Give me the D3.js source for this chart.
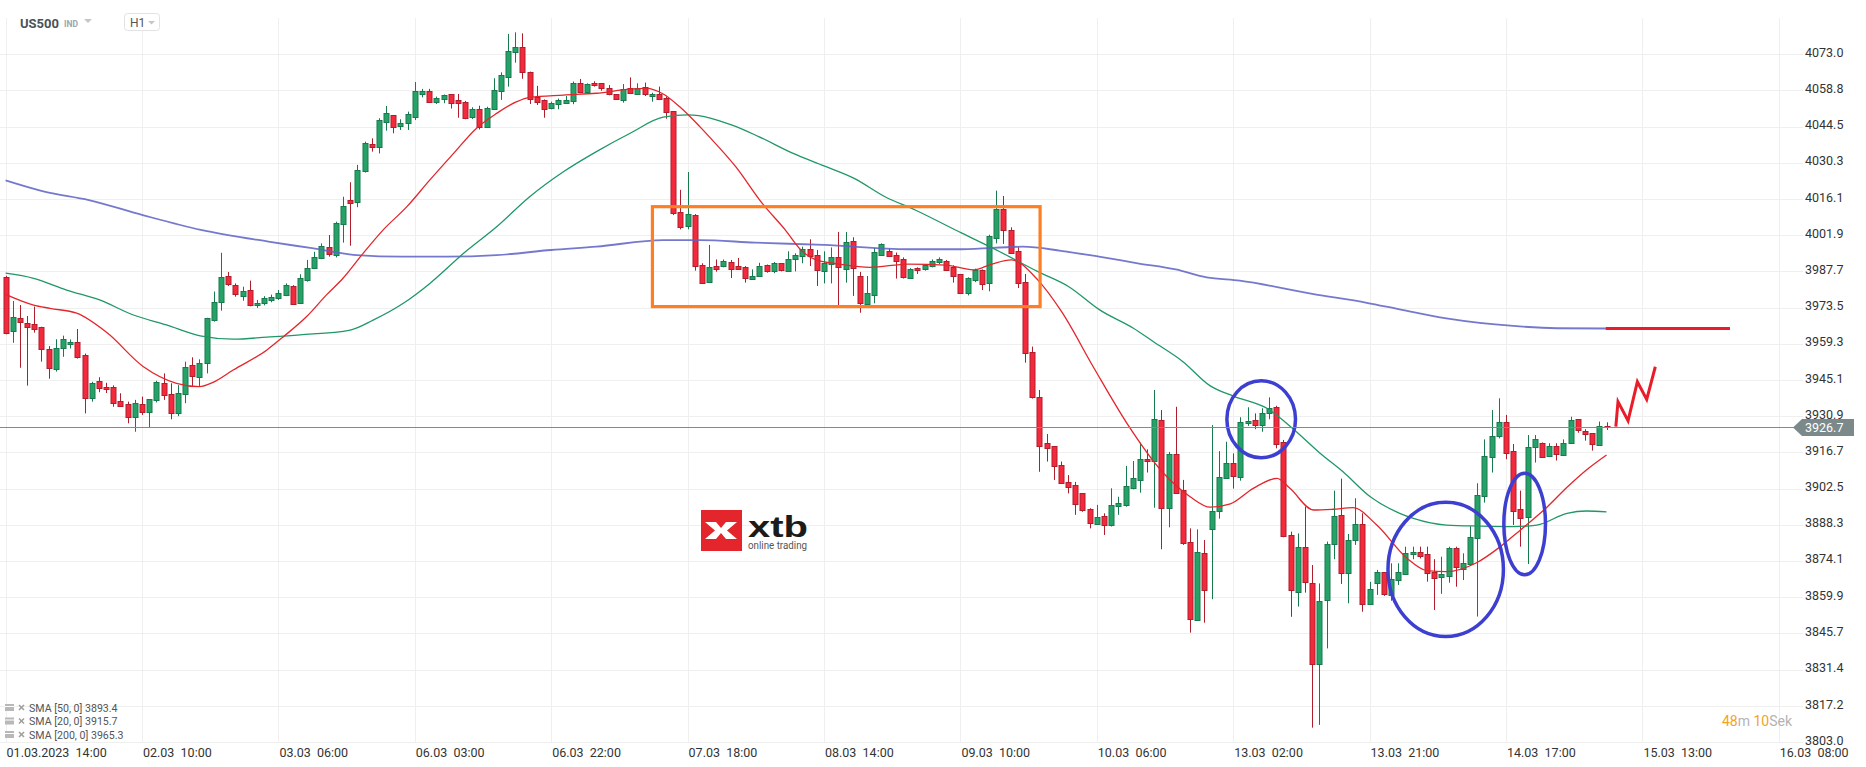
<!DOCTYPE html>
<html><head><meta charset="utf-8">
<script src="https://cdn.jsdelivr.net/npm/d3@7"></script>
<style>
html,body{margin:0;padding:0;background:#fff;}
svg{display:block;font-family:Roboto,"Liberation Sans",sans-serif;}
</style></head><body>
<svg id="chart" width="1866" height="767"></svg>
<script>
// ---------- DATA ----------
const openV = [3985.4,3964.1,3969.3,3967.6,3967.0,3965.8,3957.2,3949.3,3957.5,3959.1,3959.9,3954.8,3937.9,3944.6,3942.3,3942.5,3937.0,3935.6,3930.5,3935.6,
3932.4,3937.0,3943.8,3939.5,3932.0,3939.9,3950.9,3946.4,3951.7,3968.9,3975.8,3986.0,3982.4,3978.2,3980.4,3974.3,3975.2,3976.8,3977.2,3978.5,
3982.1,3975.2,3984.3,3989.0,3993.2,3997.4,3994.2,4006.2,4015.7,4015.1,4027.2,4037.6,4036.4,4046.1,4048.9,4044.5,4045.8,4048.4,4057.6,4058.4,
4054.0,4055.2,4057.3,4055.0,4054.3,4048.2,4051.4,4044.5,4051.3,4058.4,4064.1,4073.7,4075.6,4066.1,4056.1,4055.0,4051.6,4053.3,4054.0,4054.4,
4061.5,4057.8,4061.5,4061.5,4059.5,4057.3,4055.2,4059.5,4057.6,4059.9,4056.4,4057.3,4055.7,4050.6,4010.9,4005.3,4009.8,3990.2,3983.3,3989.8,
3989.6,3991.4,3989.8,3989.3,3984.9,3985.9,3990.1,3987.7,3990.9,3988.0,3992.5,3993.5,3996.4,3994.0,3987.7,3990.4,3993.2,3988.8,3999.5,3985.9,
3974.9,3978.6,3994.3,3995.9,3994.3,3992.4,3985.1,3989.0,3988.5,3989.6,3991.1,3991.9,3989.6,3986.7,3979.1,3984.3,3988.3,3983.0,4000.6,4012.1,
4004.0,3995.6,3983.5,3955.9,3938.3,3920.2,3919.2,3911.6,3905.1,3903.8,3900.6,3894.4,3888.5,3891.8,3888.2,3895.4,3895.8,3902.7,3905.9,3914.0,
3913.1,3929.3,3895.0,3916.1,3901.9,3881.4,3851.2,3877.4,3886.5,3893.7,3907.0,3912.7,3907.2,3928.3,3929.3,3927.7,3932.0,3934.4,3920.6,3884.2,
3862.1,3879.7,3865.3,3833.9,3858.5,3880.6,3892.2,3869.3,3882.3,3888.5,3857.1,3865.3,3869.7,3860.8,3866.4,3869.0,3876.8,3877.6,3876.8,3869.9,
3867.7,3868.3,3879.1,3871.2,3873.2,3883.0,3899.6,3914.8,3923.1,3928.6,3917.4,3894.4,3891.2,3918.7,3920.3,3915.3,3919.2,3915.9,3920.3,3929.7,
3925.2,3924.2,3919.9,3927.2];
const highV = [3986.0,3976.1,3974.5,3970.2,3973.9,3966.0,3958.4,3961.1,3962.5,3961.0,3965.1,3955.5,3944.4,3946.2,3944.0,3943.0,3939.9,3936.6,3937.3,3938.6,
3937.5,3944.8,3947.7,3943.8,3943.1,3952.3,3954.0,3953.2,3969.5,3979.8,3995.0,3987.5,3983.0,3981.7,3984.1,3976.5,3978.0,3978.6,3980.4,3983.0,
3982.3,3986.6,3992.2,3995.4,3998.7,4002.0,4007.2,4017.0,4022.7,4029.5,4038.6,4039.9,4047.8,4052.6,4048.9,4047.4,4050.4,4062.0,4059.3,4059.3,
4056.3,4057.1,4057.3,4057.3,4054.6,4052.1,4052.7,4052.3,4063.5,4065.8,4080.9,4081.5,4081.1,4066.1,4060.5,4055.2,4054.3,4055.5,4056.5,4062.2,
4063.2,4061.5,4062.3,4061.5,4060.8,4057.3,4061.2,4063.8,4061.5,4061.8,4057.8,4060.2,4056.3,4050.6,4019.7,4026.7,4010.2,3990.9,3998.1,3992.4,
3992.4,3992.2,3993.0,3989.8,3988.5,3991.1,3990.4,3991.4,3990.9,3995.6,3994.8,3997.4,4000.3,3996.1,3995.6,3997.1,4003.2,4003.2,4001.1,3987.5,
3985.9,3996.9,3998.7,3996.6,3995.1,3993.2,3989.0,3989.3,3990.6,3992.4,3993.2,3992.2,3990.1,3986.7,3985.4,3988.8,3988.5,4002.1,4019.4,4017.3,
4005.0,3997.2,3986.7,3958.2,3941.2,3923.9,3919.2,3913.1,3907.8,3905.1,3900.6,3894.8,3896.1,3892.8,3902.6,3899.3,3911.4,3913.3,3920.5,3917.9,
3941.2,3933.3,3916.9,3934.6,3905.9,3886.9,3886.5,3882.3,3927.4,3917.2,3920.9,3916.3,3930.5,3934.4,3932.0,3934.0,3938.3,3935.0,3921.6,3885.6,
3884.9,3895.4,3872.5,3865.3,3881.7,3901.7,3906.4,3884.7,3898.7,3892.8,3865.9,3870.6,3869.7,3873.2,3873.2,3879.7,3879.7,3879.7,3879.7,3874.8,
3875.8,3879.7,3879.7,3877.1,3887.8,3904.6,3921.8,3933.3,3937.9,3931.4,3920.0,3901.7,3923.5,3923.5,3920.6,3920.3,3920.3,3921.8,3930.7,3929.7,
3925.8,3924.2,3928.8,3928.5];
const lowV = [3963.0,3959.7,3949.9,3942.9,3963.7,3952.3,3945.6,3948.4,3954.2,3957.5,3953.5,3932.0,3936.6,3940.3,3940.0,3934.6,3934.6,3928.1,3924.8,3931.4,
3926.6,3936.3,3937.3,3929.7,3930.9,3936.0,3942.5,3942.5,3947.7,3968.0,3972.3,3982.0,3977.8,3976.2,3974.0,3973.4,3974.4,3975.6,3976.5,3978.0,
3974.9,3974.9,3983.7,3988.6,3992.5,3993.5,3993.2,3999.0,3997.8,4012.9,4026.5,4034.7,4034.0,4042.9,4041.9,4043.2,4043.2,4047.1,4056.0,4054.0,
4053.4,4053.7,4051.6,4048.0,4047.4,4047.5,4043.4,4044.2,4051.0,4055.0,4060.2,4069.6,4063.3,4053.4,4053.0,4048.0,4051.3,4051.3,4053.4,4053.3,
4057.6,4057.6,4060.2,4058.6,4056.8,4055.0,4053.9,4057.6,4057.3,4056.5,4054.3,4055.0,4047.6,4009.8,4004.2,4004.2,3988.0,3982.8,3983.3,3987.6,
3989.3,3985.1,3988.3,3983.3,3984.6,3985.6,3987.2,3987.0,3987.7,3987.5,3987.7,3990.9,3989.8,3982.0,3983.0,3983.0,3974.5,3983.3,3978.1,3971.5,
3974.5,3975.2,3994.0,3993.8,3984.9,3984.9,3984.9,3986.7,3988.0,3989.3,3990.6,3988.3,3983.3,3979.1,3978.3,3983.5,3980.4,3979.9,3998.7,3998.5,
3994.8,3981.2,3951.9,3937.8,3909.1,3913.1,3905.9,3904.3,3900.6,3892.2,3893.4,3886.9,3888.5,3884.3,3887.6,3892.2,3895.4,3902.2,3900.9,3908.8,
3895.0,3878.7,3887.3,3900.6,3880.4,3846.0,3851.2,3849.9,3859.1,3890.7,3906.4,3902.5,3905.6,3927.1,3925.8,3924.8,3929.7,3918.3,3883.4,3852.2,
3856.2,3861.7,3808.7,3809.8,3839.8,3874.8,3865.1,3857.5,3880.4,3854.2,3856.8,3860.8,3860.4,3858.5,3864.7,3868.6,3874.8,3875.1,3866.0,3854.9,
3861.2,3865.6,3864.0,3866.6,3872.1,3852.3,3897.0,3908.8,3922.2,3914.0,3888.2,3879.7,3872.9,3912.7,3914.8,3915.0,3913.5,3915.6,3920.0,3924.4,
3921.3,3917.4,3919.6,3925.5];
const closeV = [3963.4,3969.7,3967.6,3966.0,3965.2,3957.2,3949.7,3957.5,3961.1,3959.9,3954.0,3937.9,3943.8,3941.9,3941.5,3936.4,3935.0,3930.5,3936.0,3932.4,
3937.5,3944.2,3939.1,3932.0,3939.9,3950.3,3946.4,3951.7,3969.3,3975.8,3985.6,3982.7,3978.7,3980.0,3974.5,3975.2,3977.2,3977.8,3979.1,3982.5,
3975.2,3985.0,3989.2,3993.5,3997.8,3994.5,4006.6,4013.4,4014.4,4027.5,4038.0,4036.3,4047.1,4049.7,4044.2,4045.8,4049.3,4058.5,4058.6,4054.0,
4055.7,4056.8,4053.7,4053.7,4048.0,4051.4,4044.2,4051.8,4058.9,4064.8,4074.2,4075.6,4065.8,4055.6,4054.3,4051.6,4053.7,4055.0,4055.0,4061.5,
4058.0,4061.1,4060.6,4059.5,4057.3,4055.2,4059.4,4057.6,4059.8,4057.3,4057.3,4055.2,4050.1,4010.5,4005.0,4010.1,3989.6,3983.3,3989.3,3988.8,
3991.7,3988.8,3988.8,3984.9,3985.9,3989.8,3987.7,3990.9,3988.0,3992.7,3994.0,3996.4,3993.5,3988.0,3990.9,3993.2,3989.3,3999.2,3988.8,3975.2,
3979.1,3995.3,3998.5,3994.0,3991.9,3985.4,3988.8,3988.3,3990.1,3991.7,3992.4,3988.5,3986.2,3979.4,3985.1,3988.3,3983.0,4001.6,4012.1,4003.7,
3995.1,3983.0,3955.6,3938.3,3919.2,3918.3,3911.4,3904.6,3903.0,3896.5,3893.8,3888.9,3891.2,3888.2,3895.9,3896.7,3903.4,3906.7,3914.0,3913.1,
3929.7,3894.6,3916.1,3900.9,3881.0,3851.2,3877.8,3862.7,3893.7,3907.2,3912.7,3907.7,3928.8,3928.9,3927.2,3932.3,3934.0,3920.0,3883.6,3862.5,
3879.7,3866.0,3833.7,3858.5,3880.6,3891.6,3869.3,3882.3,3888.5,3857.2,3863.0,3869.7,3861.2,3866.9,3869.7,3877.1,3877.6,3876.0,3869.2,3867.7,
3869.0,3879.1,3871.6,3873.4,3883.6,3900.0,3915.3,3923.1,3928.6,3916.6,3893.8,3890.8,3918.7,3921.8,3915.0,3919.2,3915.9,3920.5,3929.4,3925.2,
3924.2,3920.0,3927.2,3926.7];

const xTickLabels = ["01.03.2023  14:00","02.03  10:00","03.03  06:00","06.03  03:00","06.03  22:00","07.03  18:00","08.03  14:00",
  "09.03  10:00","10.03  06:00","13.03  02:00","13.03  21:00","14.03  17:00","15.03  13:00","16.03  08:00"];
const barsPerTick = 19;
const yTicks = [4073.0,4058.8,4044.5,4030.3,4016.1,4001.9,3987.7,3973.5,3959.3,3945.1,3930.9,3916.7,3902.5,3888.3,3874.1,3859.9,3845.7,3831.4,3817.2,3803.0];

const sma20 = [[0,3978.7],[3.9,3974.5],[6.2,3973.2],[9.9,3971.3],[14.1,3963.7],[19.2,3950.3],[23.8,3943.8],[27.0,3942.5],[28.9,3944.2],[31.7,3949.0],
[36.4,3956.9],[38.7,3962.1],[41.9,3969.9],[44.7,3978.5],[47.0,3985.0],[49.8,3994.8],[52.6,4004.0],[55.9,4013.1],[59.1,4023.6],[62.4,4034.0],
[65.6,4043.9],[68.4,4049.7],[71.2,4054.3],[73.0,4056.0],[77.7,4056.9],[82.3,4057.6],[87.0,4059.2],[89.3,4059.5],[91.6,4057.3],[93.9,4052.3],
[96.7,4044.5],[98.0,4040.6],[101.7,4028.8],[105.4,4014.4],[108.6,4004.0],[110.8,3996.1],[112.9,3992.2],[116.1,3990.6],[120.4,3989.3],[125.7,3990.6],
[131.0,3990.2],[134.8,3988.3],[137.4,3990.6],[140.1,3992.2],[143.8,3984.3],[147.1,3971.9],[151.5,3950.3],[156.2,3928.1],[161.3,3908.5],[165.0,3899.3],
[167.8,3895.2],[170.6,3896.5],[173.8,3902.6],[177.1,3906.5],[178.9,3902.6],[182.2,3894.1],[184.9,3894.4],[187.7,3895.0],[191.0,3888.2],[195.2,3875.2],
[198.0,3870.3],[200.7,3869.9],[204.9,3873.4],[208.2,3879.7],[210.9,3886.0],[214.7,3895.2],[217.5,3903.0],[220.2,3909.8],[223.0,3915.7]];
const sma50 = [[0,3987.0],[3.9,3985.0],[8.5,3980.4],[13.1,3976.5],[17.8,3970.6],[22.4,3966.7],[27.1,3962.4],[31.7,3961.1],[36.4,3961.9],[41.0,3962.8],
[48.0,3964.7],[51.2,3968.6],[55.4,3975.2],[59.1,3983.0],[63.8,3994.8],[68.4,4005.2],[73.0,4017.0],[77.7,4026.8],[82.3,4034.7],[87.0,4041.9],
[91.6,4048.2],[95.1,4049.1],[101.2,4045.1],[104.9,4040.6],[109.7,4034.0],[114.0,4029.1],[118.2,4024.2],[122.5,4017.0],[126.7,4011.8],[133.2,4002.7],
[138.5,3995.4],[143.8,3987.6],[148.1,3981.7],[152.4,3972.6],[157.1,3965.4],[159.9,3960.1],[164.0,3952.3],[167.8,3942.8],[171.0,3938.8],[175.7,3934.0],
[179.4,3925.8],[183.1,3916.4],[186.3,3909.1],[190.1,3899.3],[194.2,3892.8],[196.1,3890.8],[200.7,3888.2],[205.4,3887.8],[210.0,3887.6],[213.3,3888.2],
[217.5,3892.8],[220.2,3893.7],[223.0,3893.4]];
const sma200 = [[0,4023.4],[5.4,4019.0],[11.6,4015.7],[19.1,4009.8],[27.2,4004.0],[36.6,3999.4],[42.7,3996.8],[48.9,3994.1],[55.2,3993.5],[61.3,3993.5],
[68.4,3994.1],[76.0,3996.1],[82.3,3997.4],[91.6,4000.0],[96.7,4000.0],[104.4,3999.0],[114.0,3998.1],[125.7,3996.4],[133.2,3996.4],[141.7,3997.4],
[147.0,3995.8],[152.3,3993.5],[157.7,3990.9],[163.0,3988.5],[167.3,3985.4],[171.9,3984.1],[182.2,3978.8],[189.6,3975.4],[194.2,3972.8],[200.7,3969.3],
[210.0,3966.3],[216.1,3965.4],[223.0,3965.3]];

const lastPrice = 3926.7;
const legendNames = ["SMA [50, 0]","SMA [20, 0]","SMA [200, 0]"];
const legendValues = [3893.4, 3915.7, 3965.3];

// annotations (index, price)
const boxIdx = [90.1, 144.1];
const boxPrice = [4013.1, 3973.9];
const ellipses = [[174.9,3929.7,4.78,15.1],[200.6,3870.8,8.04,26.3],[211.6,3888.6,2.9,19.9]];
const targetLineIdx = [222.9, 240.2];
const targetLinePrice = 3965.3;
const zigzag = [[224.3,3926.8],[224.6,3936.6],[226.0,3929.1],[227.3,3944.4],[228.6,3937.5],[229.8,3950.3]];

// ---------- DRAW ----------
const svg = d3.select("#chart");
const totalSlots = 13 * barsPerTick;
const x = d3.scaleLinear().domain([0, totalSlots]).range([5.6, 1778.8]);
const y = d3.scaleLinear().domain([3803.0, 4073.0]).range([742.2, 54]);

const gridC = "#efefef";
svg.append("g").selectAll("line").data(yTicks).join("line")
  .attr("x1", 0).attr("x2", 1803)
  .attr("y1", d => Math.round(y(d)) + 0.5).attr("y2", d => Math.round(y(d)) + 0.5)
  .attr("stroke", gridC).attr("stroke-width", 1);
const xTickIdx = xTickLabels.map((_, k) => k * barsPerTick);
svg.append("g").selectAll("line").data(xTickIdx).join("line")
  .attr("x1", d => Math.round(x(d)) + 0.5).attr("x2", d => Math.round(x(d)) + 0.5)
  .attr("y1", 18).attr("y2", 743)
  .attr("stroke", gridC).attr("stroke-width", 1);

svg.append("g").selectAll("text").data(yTicks).join("text")
  .attr("x", 1805).attr("y", d => y(d) + 2.5)
  .attr("font-size", 12.5).attr("fill", "#333")
  .text(d => d.toFixed(1));

svg.append("g").selectAll("text").data(xTickLabels).join("text")
  .attr("x", (d, k) => x(k * barsPerTick) + 1).attr("y", 757)
  .attr("font-size", 12.5).attr("fill", "#333")
  .attr("xml:space", "preserve").style("white-space", "pre")
  .text(d => d);

// XTB logo (watermark)
const logo = svg.append("g");
logo.append("rect").attr("x", 701).attr("y", 510).attr("width", 41).attr("height", 41).attr("fill", "#e4262c");
logo.append("path").attr("d", "M705,522 L716,522 L721,528 L726,522 L737,522 L727,530.5 L737,539 L726,539 L721,533 L716,539 L705,539 L715,530.5 Z").attr("fill", "#fff");
logo.append("text").attr("x", 748).attr("y", 537).attr("font-size", 30).attr("font-weight", "bold")
  .attr("font-family", "'Liberation Sans',Arial,sans-serif").attr("fill", "#1b1b1b")
  .attr("textLength", 60).attr("lengthAdjust", "spacingAndGlyphs").text("xtb");
logo.append("text").attr("x", 748).attr("y", 549).attr("font-size", 10).attr("fill", "#555")
  .attr("textLength", 59).attr("lengthAdjust", "spacingAndGlyphs").text("online trading");

// Candles
const idx = d3.range(openV.length);
const upFill = "#26a269", upStroke = "#167a4c", dnFill = "#f22a3c", dnStroke = "#b01d2c";
const cg = svg.append("g");
cg.selectAll("line").data(idx).join("line")
  .attr("x1", i => Math.round(x(i)) + 0.5).attr("x2", i => Math.round(x(i)) + 0.5)
  .attr("y1", i => y(highV[i])).attr("y2", i => y(lowV[i]))
  .attr("stroke", i => closeV[i] >= openV[i] ? upStroke : dnStroke).attr("stroke-width", 1);
cg.selectAll("rect").data(idx).join("rect")
  .attr("x", i => Math.round(x(i)) - 2)
  .attr("y", i => Math.round(y(Math.max(openV[i], closeV[i]))) + 0.5)
  .attr("width", 5)
  .attr("height", i => Math.max(1, Math.round(Math.abs(y(openV[i]) - y(closeV[i])))))
  .attr("fill", i => closeV[i] >= openV[i] ? upFill : dnFill)
  .attr("stroke", i => closeV[i] >= openV[i] ? upStroke : dnStroke).attr("stroke-width", 1);

// SMA lines
const line = d3.line().x(d => x(d[0])).y(d => y(d[1])).curve(d3.curveMonotoneX);
svg.append("path").datum(sma200).attr("d", line).attr("fill", "none").attr("stroke", "#5d61c4").attr("stroke-width", 1.8).attr("opacity", 0.85);
svg.append("path").datum(sma50).attr("d", line).attr("fill", "none").attr("stroke", "#1f9766").attr("stroke-width", 1.3);
svg.append("path").datum(sma20).attr("d", line).attr("fill", "none").attr("stroke", "#e3262b").attr("stroke-width", 1.3);

// Annotations
svg.append("rect")
  .attr("x", x(boxIdx[0])).attr("y", y(boxPrice[0]))
  .attr("width", x(boxIdx[1]) - x(boxIdx[0])).attr("height", y(boxPrice[1]) - y(boxPrice[0]))
  .attr("fill", "none").attr("stroke", "#fd7e23").attr("stroke-width", 3.2);
svg.append("g").selectAll("ellipse").data(ellipses).join("ellipse")
  .attr("cx", d => x(d[0])).attr("cy", d => y(d[1]))
  .attr("rx", d => x(d[0] + d[2]) - x(d[0])).attr("ry", d => y(d[1] - d[3]) - y(d[1]))
  .attr("fill", "none").attr("stroke", "#3c3fd0").attr("stroke-width", 3.5);
svg.append("line")
  .attr("x1", x(targetLineIdx[0])).attr("x2", x(targetLineIdx[1]))
  .attr("y1", y(targetLinePrice)).attr("y2", y(targetLinePrice))
  .attr("stroke", "#ea1c2a").attr("stroke-width", 3);
svg.append("path").datum(zigzag)
  .attr("d", d3.line().x(d => x(d[0])).y(d => y(d[1])))
  .attr("fill", "none").attr("stroke", "#ea1c2a").attr("stroke-width", 3).attr("stroke-linejoin", "miter");

// Current price line + label
const yc = Math.round(y(lastPrice)) + 0.5;
svg.append("line").attr("x1", 0).attr("x2", 1794).attr("y1", yc).attr("y2", yc)
  .attr("stroke", "#7f8b8d").attr("stroke-width", 1);
svg.append("path")
  .attr("d", `M1793,${yc} L1802,${yc - 8.5} L1854,${yc - 8.5} L1854,${yc + 8.5} L1802,${yc + 8.5} Z`)
  .attr("fill", "#7b898b");
svg.append("text").attr("x", 1805).attr("y", yc + 4.5).attr("font-size", 12.5).attr("fill", "#fff").text(lastPrice.toFixed(1));

// Header
const hdr = svg.append("g");
hdr.append("text").attr("x", 20).attr("y", 28).attr("font-size", 13).attr("font-weight", "bold").attr("fill", "#4b5157").text("US500");
hdr.append("text").attr("x", 64).attr("y", 27).attr("font-size", 8.5).attr("font-weight", "bold").attr("fill", "#9aa6ae").text("IND");
hdr.append("path").attr("d", "M84,19 L92,19 L88,23 Z").attr("fill", "#c6c6c6");
hdr.append("rect").attr("x", 124.5).attr("y", 13.5).attr("width", 35).attr("height", 17).attr("rx", 3)
  .attr("fill", "#fff").attr("stroke", "#e2e2e2");
hdr.append("text").attr("x", 130).attr("y", 27).attr("font-size", 12).attr("fill", "#555").text("H1");
hdr.append("path").attr("d", "M148,21 L155,21 L151.5,24.5 Z").attr("fill", "#c6c6c6");

// Legend
const lg = svg.append("g");
legendNames.forEach((n, k) => {
  const cy = 708 + k * 13.5;
  lg.append("rect").attr("x", 5).attr("y", cy - 4).attr("width", 9).attr("height", 7).attr("fill", "#b8b8b8");
  lg.append("line").attr("x1", 5).attr("x2", 14).attr("y1", cy - 1.5).attr("y2", cy - 1.5).attr("stroke", "#fff").attr("stroke-width", 1);
  lg.append("line").attr("x1", 19).attr("x2", 24).attr("y1", cy - 3).attr("y2", cy + 2).attr("stroke", "#a0a0a0").attr("stroke-width", 1.6);
  lg.append("line").attr("x1", 24).attr("x2", 19).attr("y1", cy - 3).attr("y2", cy + 2).attr("stroke", "#a0a0a0").attr("stroke-width", 1.6);
  lg.append("text").attr("x", 29).attr("y", cy + 3.5).attr("font-size", 10.6).attr("fill", "#555")
    .attr("xml:space", "preserve").style("white-space", "pre").text(n + " " + legendValues[k].toFixed(1));
});

// countdown
const cd = svg.append("text").attr("x", 1722).attr("y", 726).attr("font-size", 14);
cd.append("tspan").attr("fill", "#f5a21e").text("48");
cd.append("tspan").attr("fill", "#b3b3b3").text("m ");
cd.append("tspan").attr("fill", "#f5a21e").text("10");
cd.append("tspan").attr("fill", "#b3b3b3").text("Sek");
</script>
</body></html>
